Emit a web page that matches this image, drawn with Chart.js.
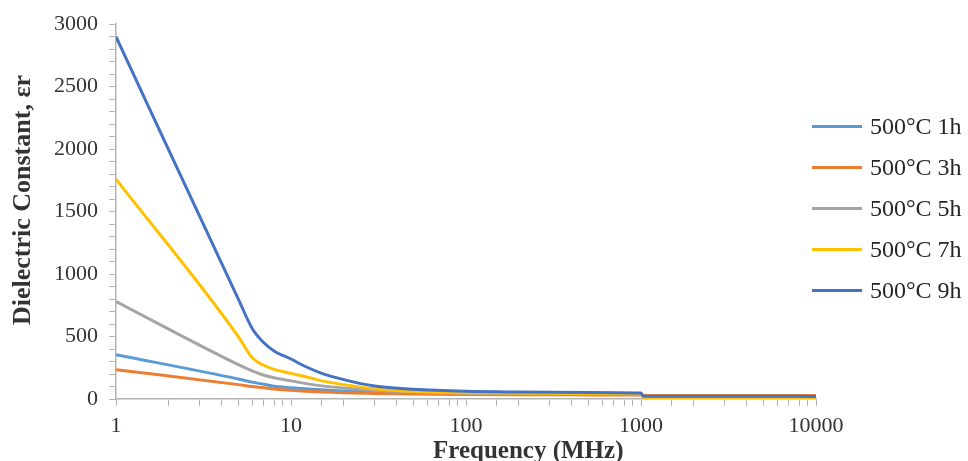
<!DOCTYPE html>
<html>
<head>
<meta charset="utf-8">
<script src="https://cdn.jsdelivr.net/npm/chart.js@4"></script>
<style>
  body { margin: 0; background: #fff; }
  #wrap { position: relative; width: 968px; height: 461px; overflow: hidden; }
  #legend { position: absolute; left: 812px; top: 106px; font-family: 'Liberation Serif', serif; font-size: 24px; color: #262626; }
  .item { display: flex; align-items: center; height: 41px; }
  .swatch { width: 50px; height: 3px; margin-right: 8px; }
  .axis-title { position: absolute; font-family: 'Liberation Serif', serif; font-weight: bold; color: #333; white-space: nowrap; }
  #xtitle { left: 433px; top: 437px; font-size: 25px; line-height: 25px; }
  #ytitle { left: -128px; top: 187px; width: 300px; text-align: center; font-size: 26px; line-height: 26px; transform: rotate(-90deg); }
</style>
</head>
<body>
<div id="wrap">
  <canvas id="chart" width="968" height="461"></canvas>
  <div id="legend"></div>
  <div class="axis-title" id="xtitle">Frequency (MHz)</div>
  <div class="axis-title" id="ytitle">Dielectric Constant, εr</div>
</div>
<script>
// Frequency points (MHz)
const freq = [1, 5, 6, 7, 8, 10, 12, 15, 20, 30, 50, 100, 200, 500, 1000, 1030, 2000, 5000, 10000];

// Dielectric constant per annealing time
const h1 = [355, 160, 135, 118, 102, 90, 82, 74, 64, 56, 50, 45, 44, 43, 42, 24, 24, 24, 24];
const h3 = [235, 115, 100, 90, 80, 70, 63, 57, 50, 45, 40, 36, 34, 33, 32, 28, 28, 28, 28];
const h5 = [780, 275, 225, 190, 170, 145, 125, 105, 88, 70, 58, 48, 44, 42, 40, 20, 20, 20, 20];
const h7 = [1760, 500, 330, 270, 237, 205, 180, 145, 115, 82, 60, 50, 47, 45, 42, 12, 12, 12, 12];
const h9 = [2900, 800, 565, 450, 385, 320, 262, 205, 155, 104, 78, 62, 56, 52, 48, 22, 22, 22, 21];

const labels = ['500°C 1h', '500°C 3h', '500°C 5h', '500°C 7h', '500°C 9h'];
const colors = ['#5B9BD5', '#ED7D31', '#A5A5A5', '#FFC000', '#4472C4'];
const yTicks = [0, 500, 1000, 1500, 2000, 2500, 3000];
const xTicks = [1, 10, 100, 1000, 10000];

const series = [h1, h3, h5, h7, h9];
const axisColor = '#B4B4B4';
const textColor = '#333333';
const serif = "'Liberation Serif', 'Times New Roman', serif";

const toPoints = (vals) => vals.map((v, i) => ({ x: freq[i], y: v }));

const datasets = series.map((vals, i) => ({
  label: labels[i],
  data: toPoints(vals),
  borderColor: colors[i],
  backgroundColor: colors[i],
  borderWidth: 3,
  pointRadius: 0,
  cubicInterpolationMode: 'monotone',
  order: series.length - i,
}));

const ctx = document.getElementById('chart').getContext('2d');
const chart = new Chart(ctx, {
  type: 'line',
  data: { datasets },
  options: {
    responsive: false,
    animation: false,
    layout: { padding: { left: 43, right: 152, top: 8, bottom: 15 } },
    plugins: {
      legend: { display: false },
      tooltip: { enabled: false },
    },
    scales: {
      x: {
        type: 'logarithmic',
        min: 1,
        max: 10000,
        border: { color: axisColor, width: 1.5 },
        grid: { drawOnChartArea: false, color: axisColor, tickLength: 7 },
        ticks: {
          autoSkip: false,
          maxRotation: 0,
          color: textColor,
          font: { family: serif, size: 22, lineHeight: 1 },
          padding: 9,
          callback: (v) => (xTicks.includes(v) ? String(v) : ''),
        },
      },
      y: {
        min: 0,
        max: 3000,
        border: { color: axisColor, width: 1.5 },
        grid: { drawOnChartArea: false, color: axisColor, tickLength: 7 },
        ticks: {
          stepSize: 100,
          autoSkip: false,
          color: textColor,
          font: { family: serif, size: 22 },
          padding: 11,
          callback: (v) => (yTicks.includes(v) ? String(v) : ''),
        },
      },
    },
  },
});

// Legend built from the chart's datasets
const legendEl = document.getElementById('legend');
for (const ds of chart.data.datasets) {
  const item = document.createElement('div');
  item.className = 'item';
  const sw = document.createElement('span');
  sw.className = 'swatch';
  sw.style.background = ds.borderColor;
  const txt = document.createElement('span');
  txt.textContent = ds.label;
  item.appendChild(sw);
  item.appendChild(txt);
  legendEl.appendChild(item);
}
</script>
</body>
</html>
